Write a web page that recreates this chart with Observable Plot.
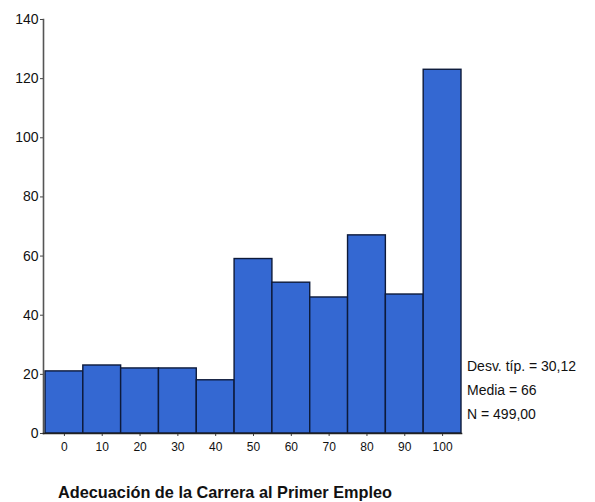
<!DOCTYPE html>
<html>
<head>
<meta charset="utf-8">
<script src="https://cdn.jsdelivr.net/npm/d3@7"></script>
<script src="https://cdn.jsdelivr.net/npm/@observablehq/plot@0.6"></script>
<style>
  html, body { margin: 0; padding: 0; background: #fff; }
  #wrap { position: relative; width: 595px; height: 502px; font-family: "Liberation Sans", Arial, sans-serif; color: #111; }
  #chart svg { display: block; }
  .stat { position: absolute; left: 467px; font-size: 14px; line-height: 16px; white-space: nowrap; }
  #title { position: absolute; left: 0; width: 450px; text-align: center; top: 483px; font-weight: bold; font-size: 16.3px; white-space: nowrap; }
</style>
</head>
<body>
<div id="wrap">
  <div id="chart"></div>
  <div id="stats"></div>
  <div id="title"></div>
</div>
<script>
// Data
const binCenters = [0, 10, 20, 30, 40, 50, 60, 70, 80, 90, 100];
const counts     = [21, 23, 22, 22, 18, 59, 51, 46, 67, 47, 123];
const binWidth = 10;
const yTicks = [0, 20, 40, 60, 80, 100, 120, 140];
const xTicks = [0, 10, 20, 30, 40, 50, 60, 70, 80, 90, 100];
const statLines = ["Desv. típ. = 30,12", "Media = 66", "N = 499,00"];
const titleText = "Adecuación de la Carrera al Primer Empleo";

const bins = binCenters.map((c, i) => ({x1: c - binWidth / 2, x2: c + binWidth / 2, count: counts[i]}));

const chart = Plot.plot({
  width: 595,
  height: 470,
  marginLeft: 43,
  marginRight: 134,
  marginTop: 19,
  marginBottom: 37,
  style: {fontFamily: '"Liberation Sans", Arial, sans-serif', color: "#111", background: "#fff"},
  x: {domain: [-5.53, 105]},
  y: {domain: [0, 140]},
  marks: [
    Plot.rectY(bins, {x1: "x1", x2: "x2", y: "count", fill: "#3468d2", stroke: "#0d1a3a", strokeWidth: 1.4, inset: 0}),
    Plot.axisY({ticks: yTicks, tickSize: 3, tickPadding: 2, fontSize: 14, stroke: "#444", label: null, tickFormat: d => d}),
    Plot.axisX({ticks: xTicks, tickSize: 3, tickPadding: 6, fontSize: 12, stroke: "#444", label: null, tickFormat: d => d}),
    Plot.frame({anchor: "left", stroke: "#555", strokeWidth: 1.6}),
    Plot.frame({anchor: "bottom", stroke: "#222", strokeWidth: 1.6})
  ]
});
document.getElementById("chart").appendChild(chart);

const stats = document.getElementById("stats");
statLines.forEach((t, i) => {
  const d = document.createElement("div");
  d.className = "stat";
  d.style.top = (358 + i * 24) + "px";
  d.textContent = t;
  stats.appendChild(d);
});
document.getElementById("title").textContent = titleText;
</script>
</body>
</html>
